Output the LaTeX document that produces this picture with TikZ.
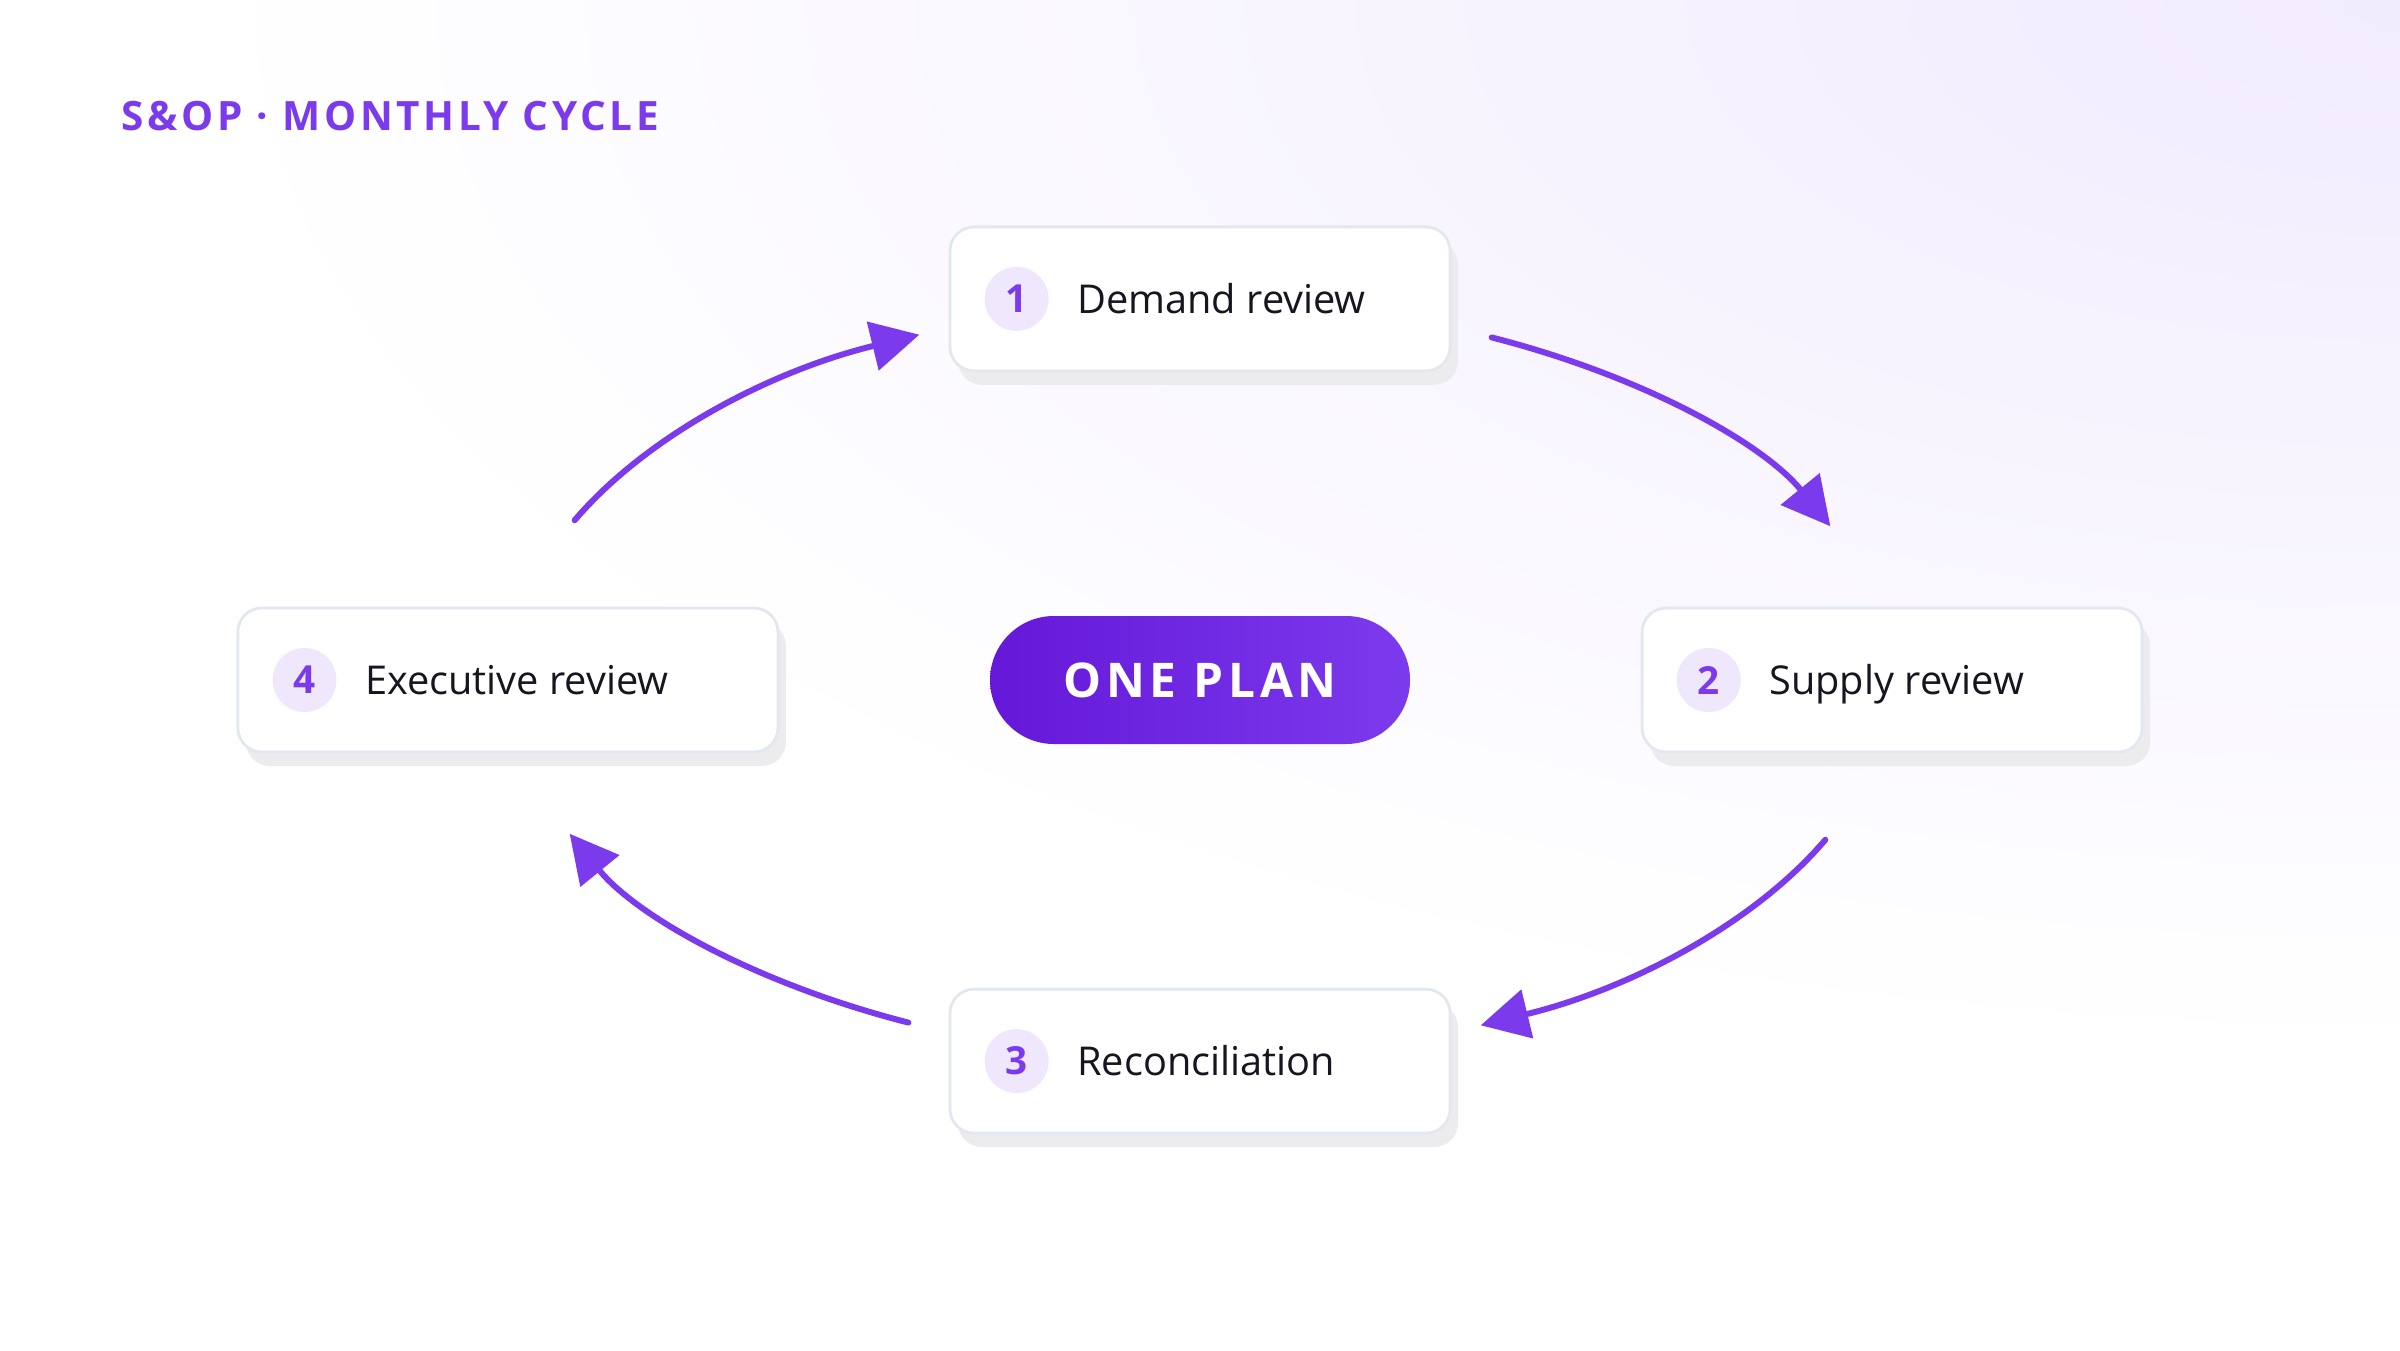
\documentclass[tikz,border=0pt]{standalone}
\usepackage{fontspec}
\setmainfont{Open Sans}
\newfontfamily\trackfont[LetterSpace=9]{Open Sans}
\newfontfamily\planfont[LetterSpace=10]{Open Sans}
\usetikzlibrary{positioning,arrows.meta,shadows}
\definecolor{accent}{HTML}{7C3AED}
\definecolor{ink}{HTML}{17151F}
\definecolor{boxline}{HTML}{E3E8F0}
\definecolor{shadowgray}{HTML}{ECECEF}
\definecolor{badgefill}{HTML}{EFE8FD}
\definecolor{bgtint}{HTML}{F1EBFE}
\definecolor{plandark}{HTML}{6418D8}
\definecolor{planlight}{HTML}{7C3AED}

\begin{document}
\begin{tikzpicture}[
  box/.style={draw=boxline, line width=0.8pt, fill=white, rounded corners=2.4mm,
    minimum width=50mm, minimum height=14.4mm, inner sep=0pt,
    drop shadow={shadow xshift=0.8mm, shadow yshift=-1.4mm, fill=shadowgray, opacity=1}},
  badge/.style={circle, fill=badgefill, minimum size=6.4mm, inner sep=0pt, text=accent,
    font=\fontsize{11}{13}\selectfont\bfseries},
  lbl/.style={anchor=west, inner sep=0pt, text=ink, text height=2.85mm, text depth=0pt,
    font=\fontsize{11.3}{14}\selectfont},
  plan/.style={rounded corners=6.4mm, minimum width=42mm, minimum height=12.8mm,
    left color=plandark, right color=planlight, text=white,
    font=\planfont\bfseries\fontsize{13.6}{16}\selectfont},
  flow/.style={-{Triangle[length=4.8mm, width=4.9mm]}, accent, line width=1.7pt, line cap=round},
  node distance=24.3mm and 23mm]
% canvas
\useasboundingbox (0,0) rectangle (24,13.5);
\fill[white] (0,0) rectangle (24,13.5);
\begin{scope}
  \clip (0,0) rectangle (24,13.5);
  \shade[inner color=bgtint, outer color=white] (24,13.5) ellipse (22 and 10.5);
\end{scope}
\node[anchor=base west, inner sep=0pt, text=accent,
  font=\trackfont\bfseries\fontsize{11.5}{14}\selectfont] (title) at (1.21,12.19)
  {S\&OP · MONTHLY CYCLE};
% hub
\node[plan] (plan) at (12,6.70) {ONE PLAN};
% steps
\node[box, above=of plan] (demand) {};
\node[badge] (b1) at ([xshift=6.8mm]demand.west) {1};
\node[lbl] (t1) at ([xshift=12.8mm]demand.west) {Demand review};
\node[box, right=of plan] (supply) {};
\node[badge] (b2) at ([xshift=6.8mm]supply.west) {2};
\node[lbl] (t2) at ([xshift=12.8mm]supply.west) {Supply review};
\node[box, below=of plan] (recon) {};
\node[badge] (b3) at ([xshift=6.8mm]recon.west) {3};
\node[lbl] (t3) at ([xshift=12.8mm]recon.west) {Reconciliation};
\node[box, minimum width=54mm, left=21mm of plan] (exec) {};
\node[badge] (b4) at ([xshift=6.8mm]exec.west) {4};
\node[lbl] (t4) at ([xshift=12.8mm]exec.west) {Executive review};
% cycle arrows
\draw[flow] (plan.center) ++(65:6.9 and 3.78) arc[start angle=65, end angle=24, x radius=6.9, y radius=3.78];
\draw[flow] (plan.center) ++(-25:6.9 and 3.78) arc[start angle=-25, end angle=-66, x radius=6.9, y radius=3.78];
\draw[flow] (plan.center) ++(-115:6.9 and 3.78) arc[start angle=-115, end angle=-156, x radius=6.9, y radius=3.78];
\draw[flow] (plan.center) ++(155:6.9 and 3.78) arc[start angle=155, end angle=114, x radius=6.9, y radius=3.78];
\end{tikzpicture}
\end{document}
